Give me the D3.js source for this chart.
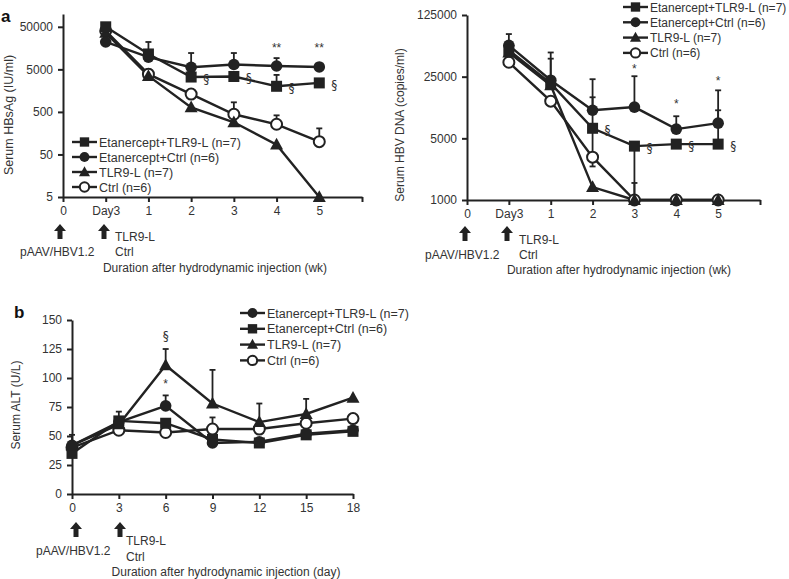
<!DOCTYPE html>
<html><head><meta charset="utf-8">
<script src="https://cdn.jsdelivr.net/npm/d3@7"></script>
<style>
body{margin:0;background:#fff;}
svg text{font-family:"Liberation Sans",Arial,sans-serif;fill:#333;}
</style></head>
<body><svg id="c" width="789" height="579"></svg>
<script>
// ---------- DATA ----------
const weekLabels = ["0","Day3","1","2","3","4","5",""];
const weekIdx = [1,2,3,4,5,6];
// Panel a (left) Serum HBsAg (IU/ml)
const hbsEtanTLR  = [50000, 11500, 3300, 3400, 2000, 2400];
const hbsEtanCtrl = [22000, 9700, 5600, 6500, 6000, 5700];
const hbsTLR      = [36000, 3500, 640, 285, 85, 5];
const hbsCtrl     = [40000, 3850, 1310, 440, 256, 100];
const hbsEtanTLRHi  = [null, 22000, null, null, 3700, null];
const hbsEtanCtrlHi = [null, null, 12100, 12100, 9200, null];
const hbsCtrlHi     = [null, 5000, null, 840, 415, 205];
const hbsTicks = [5,50,500,5000,50000];
// Panel a (right) Serum HBV DNA (copies/ml)
const dnaEtanTLR  = [49800, 21000, 6500, 4080, 4300, 4300];
const dnaEtanCtrl = [56600, 22800, 10400, 11300, 6360, 7430];
const dnaTLR      = [47000, 20000, 1400, 1000, 1000, 1000];
const dnaCtrl     = [36400, 13200, 3060, 1000, 1000, 1000];
const dnaEtanCtrlHi = [76000, 47000, 23400, 25300, 8900, 17500];
const dnaEtanTLRHi  = [null, 40000, 14600, null, null, 10400];
const dnaEtanTLRLo  = [null, null, 2400, 1000, null, null];
const dnaCtrlHi     = [null, null, null, 1560, null, null];
const dnaTicks = [1000,5000,25000,125000];
// Panel b Serum ALT (U/L)
const days = [0,3,6,9,12,15,18];
const altEtanTLR  = [42, 62, 76, 44, 45, 52, 55];
const altEtanCtrl = [35, 63, 61, 47, 44, 51, 54];
const altTLR      = [42, 60, 111, 78, 62, 69, 83];
const altCtrl     = [40, 55, 53, 56, 56, 61, 65];
const altTLRHi    = [51, 71, 125, 107, 78, 82, null];
const altEtanTLRHi= [null, null, 85, null, null, null, null];
const altCtrlHi   = [null, null, null, 66, null, null, null];
const altTicks = [0,25,50,75,100,125,150];

// ---------- HELPERS ----------
const svg = d3.select("#c");
const INK = "#222";
function marker(g, type, x, y, s){
  s = s || 1;
  if(type==="square") g.append("rect").attr("x",x-5.5*s).attr("y",y-5.5*s).attr("width",11*s).attr("height",11*s).attr("fill",INK);
  else if(type==="circle") g.append("circle").attr("cx",x).attr("cy",y).attr("r",5.8*s).attr("fill",INK);
  else if(type==="open") g.append("circle").attr("cx",x).attr("cy",y).attr("r",5.5*s).attr("fill","#fff").attr("stroke",INK).attr("stroke-width",2);
  else if(type==="tri"){ const h=11*s, w=13*s;
    g.append("path").attr("d",`M${x},${y-h*0.62}L${x+w/2},${y+h*0.45}L${x-w/2},${y+h*0.45}Z`).attr("fill",INK);}
}
function errbar(g, x, y1, y2){
  g.append("line").attr("x1",x).attr("x2",x).attr("y1",y1).attr("y2",y2).attr("stroke",INK).attr("stroke-width",1.8);
  g.append("line").attr("x1",x-3).attr("x2",x+3).attr("y1",y2).attr("y2",y2).attr("stroke",INK).attr("stroke-width",1.8);
}
function arrow(g, x, yTop){
  g.append("path").attr("d",`M${x},${yTop}L${x+6},${yTop+7}L${x+2.5},${yTop+7}L${x+2.5},${yTop+15}L${x-2.5},${yTop+15}L${x-2.5},${yTop+7}L${x-6},${yTop+7}Z`).attr("fill",INK);
}
function txt(g, x, y, s, size, anchor, extra){
  const t = g.append("text").attr("x",x).attr("y",y).text(s).attr("font-size",size||12).attr("text-anchor",anchor||"start");
  if(extra) extra(t);
  return t;
}
function sect(g, x, y, anchor){
  return txt(g,x,y,"§",12,anchor||"start",t=>t.style("font-family","DejaVu Sans, sans-serif").style("fill","#333"));
}
function styleAxis(a){
  a.selectAll("path.domain").attr("stroke",INK).attr("stroke-width",2);
  a.selectAll(".tick line").attr("stroke",INK).attr("stroke-width",2);
  a.selectAll(".tick text").attr("font-size",12).attr("fill","#333").attr("font-family","Liberation Sans, Arial, sans-serif");
}
function series(g, xs, ys){
  g.append("path").datum(ys.map((v,i)=>[xs[i],v])).attr("fill","none").attr("stroke",INK).attr("stroke-width",2.4)
   .attr("d",d3.line());
}
function legend(g, x, y0, dy, items, fs){
  items.forEach((it,i)=>{
    const y=y0+i*dy;
    g.append("line").attr("x1",x).attr("x2",x+25).attr("y1",y).attr("y2",y).attr("stroke",INK).attr("stroke-width",2.4);
    marker(g,it[0],x+12.5,y,0.85);
    txt(g,x+27,y+4.5,it[1],fs||12.5);
  });
}

// ---------- PANEL a LEFT ----------
{
  const g = svg.append("g");
  const x = d3.scaleLinear().domain([0,7]).range([63,362]);
  const y = d3.scaleLog().domain([5,100000]).range([197,14]);
  g.append("g").attr("transform","translate(0,197)")
    .call(d3.axisBottom(x).tickValues(d3.range(0,8)).tickFormat(i=>weekLabels[i]).tickSize(5).tickSizeOuter(0).tickPadding(4)).call(styleAxis);
  g.append("g").attr("transform","translate(63,0)")
    .call(d3.axisLeft(y).tickValues(hbsTicks).tickFormat(d3.format("d")).tickSize(5).tickSizeOuter(0).tickPadding(5)).call(styleAxis);
  const X = weekIdx.map(i=>x(i));
  const sets = [[hbsCtrl,"open"],[hbsTLR,"tri"],[hbsEtanCtrl,"circle"],[hbsEtanTLR,"square"]];
  [[hbsEtanTLR,hbsEtanTLRHi],[hbsEtanCtrl,hbsEtanCtrlHi],[hbsCtrl,hbsCtrlHi]].forEach(([v,h])=>h.forEach((e,i)=>{if(e!=null) errbar(g,X[i],y(v[i]),y(e));}));
  sets.forEach(([v])=>series(g,X,v.map(d=>y(d))));
  sets.forEach(([v,t])=>v.forEach((d,i)=>marker(g,t,X[i],y(d))));
  [2,3,4,5].forEach(i=>sect(g,X[i]+12,y(hbsEtanTLR[i])+6));
  [4,5].forEach(i=>txt(g,X[i],52,"**",12,"middle"));
  legend(g,72,142,15,[["square","Etanercept+TLR9-L (n=7)"],["circle","Etanercept+Ctrl (n=6)"],["tri","TLR9-L (n=7)"],["open","Ctrl (n=6)"]]);
  txt(g,13,115,"Serum HBsAg (IU/ml)",12.5,"middle",t=>t.attr("transform","rotate(-90,13,115)"));
  txt(g,1,22,"a",17,"start",t=>t.attr("font-weight","bold").style("fill","#111"));
  arrow(g,60,224); arrow(g,104,224);
  txt(g,20,256,"pAAV/HBV1.2",12);
  txt(g,115,241,"TLR9-L",12); txt(g,115,256,"Ctrl",12);
  txt(g,215,272,"Duration after hydrodynamic injection (wk)",12,"middle");
}

// ---------- PANEL a RIGHT ----------
{
  const g = svg.append("g");
  const x = d3.scaleLinear().domain([0,7]).range([467,760]);
  const y = d3.scaleLog().domain([1000,125000]).range([200,15]);
  g.append("g").attr("transform","translate(0,200)")
    .call(d3.axisBottom(x).tickValues(d3.range(0,8)).tickFormat(i=>weekLabels[i]).tickSize(5).tickSizeOuter(0).tickPadding(4)).call(styleAxis);
  g.append("g").attr("transform","translate(467,0)")
    .call(d3.axisLeft(y).tickValues(dnaTicks).tickFormat(d3.format("d")).tickSize(5).tickSizeOuter(0).tickPadding(5)).call(styleAxis);
  const X = weekIdx.map(i=>x(i));
  const sets = [[dnaCtrl,"open"],[dnaTLR,"tri"],[dnaEtanCtrl,"circle"],[dnaEtanTLR,"square"]];
  [[dnaEtanCtrl,dnaEtanCtrlHi],[dnaEtanTLR,dnaEtanTLRHi],[dnaEtanTLR,dnaEtanTLRLo],[dnaCtrl,dnaCtrlHi]].forEach(([v,h])=>h.forEach((e,i)=>{if(e!=null) errbar(g,X[i],y(v[i]),y(e));}));
  sets.forEach(([v])=>series(g,X,v.map(d=>y(d))));
  sets.forEach(([v,t])=>v.forEach((d,i)=>marker(g,t,X[i],y(d))));
  [2,3,4,5].forEach(i=>sect(g,X[i]+12,y(dnaEtanTLR[i])+6));
  txt(g,X[3],73,"*",12,"middle"); txt(g,X[4],108,"*",12,"middle"); txt(g,X[5],85,"*",12,"middle");
  legend(g,623,7,15.3,[["square","Etanercept+TLR9-L (n=7)"],["circle","Etanercept+Ctrl (n=6)"],["tri","TLR9-L (n=7)"],["open","Ctrl (n=6)"]],12);
  txt(g,404,125,"Serum HBV DNA (copies/ml)",12,"middle",t=>t.attr("transform","rotate(-90,404,125)"));
  arrow(g,465,226); arrow(g,507,226);
  txt(g,425,259,"pAAV/HBV1.2",12);
  txt(g,519,244,"TLR9-L",12); txt(g,519,259,"Ctrl",12);
  txt(g,619,274,"Duration after hydrodynamic injection (wk)",12,"middle");
}

// ---------- PANEL b ----------
{
  const g = svg.append("g");
  const x = d3.scaleLinear().domain([0,18]).range([72,353]);
  const y = d3.scaleLinear().domain([0,150]).range([494,320]);
  g.append("g").attr("transform","translate(0,494)")
    .call(d3.axisBottom(x).tickValues(days).tickSize(5).tickSizeOuter(0).tickPadding(4)).call(styleAxis);
  g.append("g").attr("transform","translate(72,0)")
    .call(d3.axisLeft(y).tickValues(altTicks).tickSize(5).tickSizeOuter(0).tickPadding(5)).call(styleAxis);
  const X = days.map(d=>x(d));
  const sets = [[altCtrl,"open"],[altTLR,"tri"],[altEtanCtrl,"square"],[altEtanTLR,"circle"]];
  [[altTLR,altTLRHi],[altEtanTLR,altEtanTLRHi],[altCtrl,altCtrlHi]].forEach(([v,h])=>h.forEach((e,i)=>{if(e!=null) errbar(g,X[i],y(v[i]),y(e));}));
  sets.forEach(([v])=>series(g,X,v.map(d=>y(d))));
  sets.forEach(([v,t])=>v.forEach((d,i)=>marker(g,t,X[i],y(d))));
  sect(g,X[2],340,"middle");
  txt(g,X[2],388,"*",12,"middle");
  legend(g,240,313,15.8,[["circle","Etanercept+TLR9-L (n=7)"],["square","Etanercept+Ctrl (n=6)"],["tri","TLR9-L (n=7)"],["open","Ctrl (n=6)"]]);
  txt(g,20,405,"Serum ALT (U/L)",12,"middle",t=>t.attr("transform","rotate(-90,20,405)"));
  txt(g,14,318,"b",17,"start",t=>t.attr("font-weight","bold").style("fill","#111"));
  arrow(g,76,522); arrow(g,120,522);
  txt(g,36,555,"pAAV/HBV1.2",12);
  txt(g,126,545,"TLR9-L",12); txt(g,126,561,"Ctrl",12);
  txt(g,226,576,"Duration after hydrodynamic injection (day)",12,"middle");
}
</script></body></html>
